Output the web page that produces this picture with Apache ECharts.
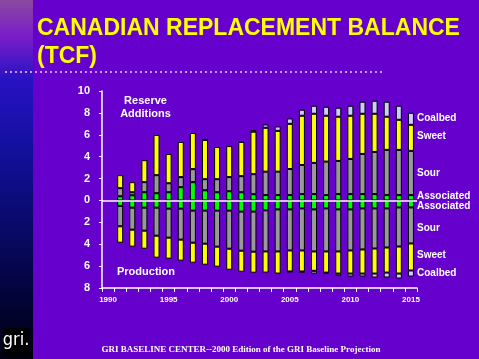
<!DOCTYPE html>
<html><head><meta charset="utf-8">
<script src="https://cdn.jsdelivr.net/npm/echarts@6/dist/echarts.min.js"></script>
<style>html,body{margin:0;padding:0;background:#6600cc}#c{width:479px;height:359px}</style>
</head><body><div id="c"></div>
<script>
var years = ['1990','1991','1992','1993','1994','1995','1996','1997','1998','1999','2000','2001','2002','2003','2004','2005','2006','2007','2008','2009','2010','2011','2012','2013','2014','2015'];
// Reserve additions (1991-2015)
var addAssociated = [0.38,0.47,0.75,0.66,0.75,1.21,1.67,0.93,0.75,0.84,0.75,0.57,0.49,0.49,0.49,0.58,0.58,0.49,0.58,0.58,0.58,0.58,0.49,0.49,0.49];
var addSour       = [0.74,0.28,0.92,1.65,0.82,0.92,1.19,1.01,1.19,1.29,1.47,1.83,2.14,2.14,2.38,2.66,2.85,3.06,3.03,3.21,3.67,3.85,4.13,4.13,4.04];
var addSweet      = [1.19,0.92,2.01,3.67,2.67,3.21,3.30,3.58,2.94,2.84,3.12,3.88,4.01,3.73,4.13,4.50,4.49,4.19,4.04,3.95,3.67,3.49,3.03,2.75,2.38];
var addCoalbed    = [0,0,0,0,0,0,0,0.05,0,0,0.05,0.16,0.30,0.40,0.49,0.55,0.73,0.82,0.82,0.91,1.10,1.19,1.37,1.28,1.10];
// Production (1991-2015), plotted downward
var prodAssociated = [0.50,0.66,0.66,0.66,0.75,0.75,0.93,0.93,0.93,0.93,1.02,1.02,0.91,0.82,0.82,0.73,0.82,0.73,0.82,0.82,0.73,0.73,0.73,0.64,0.64];
var prodSour       = [1.86,2.01,2.10,2.56,2.65,2.83,2.93,3.02,3.29,3.48,3.57,3.66,3.75,3.84,3.75,3.84,3.84,3.93,3.84,3.75,3.75,3.66,3.57,3.57,3.29];
var prodSweet      = [1.50,1.55,1.65,2.01,1.92,1.92,1.83,1.92,1.83,1.92,1.92,1.92,1.93,2.02,1.92,1.92,1.77,1.93,2.02,2.11,2.20,2.29,2.29,2.47,2.47];
var prodCoalbed    = [0,0,0,0,0,0,0,0,0,0,0,0,0,0,0.05,0.10,0.25,0.09,0.18,0.27,0.27,0.36,0.45,0.45,0.55];
var yTicks = [-8,-6,-4,-2,0,2,4,6,8,10];

var colors = {assoc:'#00ff00', sour:'#999999', sweet:'#ffff00', coal:'#ccccff'};
function prep(arr, sign){ return ['-'].concat(arr.map(function(v){ return v===0 ? '-' : sign*v; })); }
function bar(name, arr, sign, color){
  return {name:name, type:'bar', stack:'t', barWidth:6, data:prep(arr,sign),
    itemStyle:{color:color, borderColor:'#000', borderWidth:1}, animation:false};
}
var series = [
  bar('Associated', addAssociated, 1, colors.assoc),
  bar('Sour', addSour, 1, colors.sour),
  bar('Sweet', addSweet, 1, colors.sweet),
  bar('Coalbed', addCoalbed, 1, colors.coal),
  bar('Associated P', prodAssociated, -1, colors.assoc),
  bar('Sour P', prodSour, -1, colors.sour),
  bar('Sweet P', prodSweet, -1, colors.sweet),
  bar('Coalbed P', prodCoalbed, -1, colors.coal)
];
series[0].markLine = {silent:true, symbol:'none', label:{show:false}, animation:false,
  lineStyle:{color:'#ffffff', width:1.5, type:'solid'}, data:[{yAxis:0}]};
series[0].markLine.z = 10;

var F = '"Liberation Sans", Arial, sans-serif';
function txt(x,y,s,size,color,align,font,weight){
  return {type:'text', x:x, y:y, style:{text:s, fill:color||'#fff', font:(weight||'bold')+' '+size+'px '+(font||F), textAlign:align||'left', textVerticalAlign:'middle'}};
}
var rightLabels = [['Coalbed',118],['Sweet',136],['Sour',173],['Associated',196],['Associated',206],['Sour',228],['Sweet',255],['Coalbed',273]];
var graphics = [
  {type:'rect', shape:{x:0,y:0,width:33,height:359}, style:{fill:{type:'linear',x:0,y:0,x2:0,y2:1,colorStops:[
    {offset:0,color:'#8a4aa0'},{offset:0.1,color:'#7a1ec8'},{offset:0.22,color:'#2812c4'},{offset:0.4,color:'#1410a0'},
    {offset:0.6,color:'#0a0a70'},{offset:0.8,color:'#040440'},{offset:1,color:'#000010'}]}}},
  {type:'rect', shape:{x:3,y:328,width:27,height:27}, style:{fill:'#000'}},
  txt(16,340,'gri.',18,'#fff','center','"DejaVu Sans Condensed", sans-serif','normal'),
  txt(37,29,'CANADIAN REPLACEMENT BALANCE',23,'#ffff00'),
  txt(37,57,'(TCF)',23,'#ffff00'),
  {type:'line', shape:{x1:5,y1:72,x2:382,y2:72}, style:{stroke:'#cc99ff', lineWidth:2, lineDash:[2,3]}},
  txt(145.5,101,'Reserve',11,'#fff','center'),
  txt(145.5,114,'Additions',11,'#fff','center'),
  txt(117,272,'Production',11,'#fff','left'),
  txt(241,350,'GRI BASELINE CENTER--2000 Edition of the GRI Baseline Projection',9,'#fff','center','"Liberation Serif", "Times New Roman", serif','bold')
];
rightLabels.forEach(function(r){ graphics.push(txt(417,r[1],r[0],10,'#fff','left')); });

var chart = echarts.init(document.getElementById('c'), null, {renderer:'canvas'});
chart.setOption({
  backgroundColor:'#6600cc',
  animation:false,
  grid:{left:102, right:62, top:91, bottom:71, containLabel:false},
  xAxis:{type:'category', data:years, position:'bottom',
    axisLine:{onZero:false, lineStyle:{color:'#fff', width:1.5}},
    axisTick:{show:true, alignWithLabel:false, length:4, lineStyle:{color:'#fff'}, interval:0},
    axisLabel:{color:'#fff', fontSize:8, fontWeight:'bold', fontFamily:F, margin:8, interval:4}},
  yAxis:{type:'value', min:yTicks[0], max:yTicks[yTicks.length-1], interval:2,
    splitLine:{show:false},
    axisLine:{show:true, lineStyle:{color:'#fff', width:1.5}},
    axisTick:{show:true, length:3, lineStyle:{color:'#fff'}},
    axisLabel:{color:'#fff', fontSize:11, fontWeight:'bold', fontFamily:F, margin:12, formatter:function(v){return String(Math.abs(v));}}},
  series:series,
  graphic:graphics
});
</script></body></html>
